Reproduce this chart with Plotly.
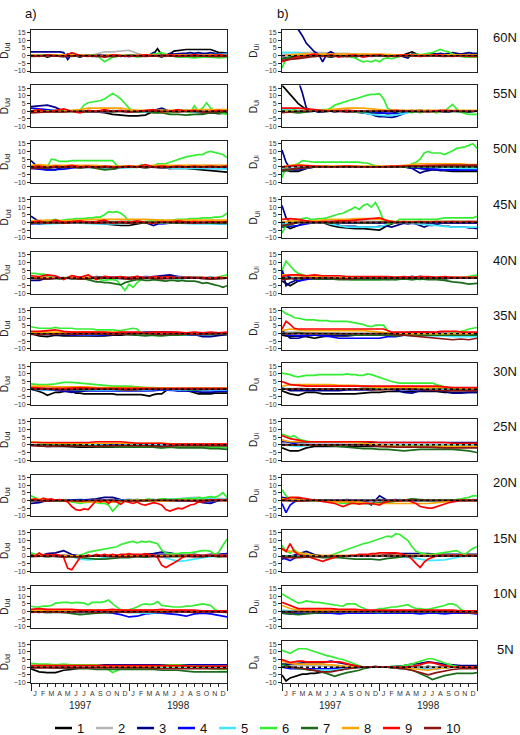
import numpy as np
import plotly.graph_objects as go

W, H = 520, 735
LATS = ["60N", "55N", "50N", "45N", "40N", "35N", "30N", "25N", "20N", "15N", "10N", "5N"]
MONTH_LETTERS = ["J", "F", "M", "A", "M", "J", "J", "A", "S", "O", "N", "D"] * 2
YEARS = ["1997", "1998"]
SERIES = [1, 2, 3, 4, 5, 6, 7, 8, 9, 10]
COLORS = {1: "#000000", 2: "#b5b5b5", 3: "#00008b", 4: "#0000ff", 5: "#40e8ff",
          6: "#33ee33", 7: "#1b6b1b", 8: "#ffa500", 9: "#ff0000", 10: "#8b1414"}

# ---------------- column a) D_Ud ----------------
A60 = {
    1: [0,-0.5,0.5,0,-1,0,0.5,-0.5,0,1,-0.5,0,-1,0.5,0,-0.5,0,0.5,-1,0,0.5,0,-0.5,0,0.5,0,-0.5,0,0.5,0,
        1,4.5,0.5,0,1,3,3.5,3.8,4,4,4,4.2,4,4,4,3,2,2,1.5],
    2: [0,0.5,0,0.5,0,0,0.5,0,1,2.5,2.5,3,3.5,1.5,0,0,0,0.5,0,0,0.5,0,0,0.5,0],
    3: [2.5,2.5,2.5,2.5,2.5,2.5,2.5,2.5,2,-2.5,1,0,-1,0,0.5,0,-0.5,0,0.5,-0.5,0,0.5,0,-0.5,0,0.5,0,-0.5,0,0.5,
        2,0,-1,0,1.5,1,1.5,1.5,1.5,2,1.5,2,1.5,1.5,2,1.5,1,1.5,1.5],
    4: [0.5,0,-0.5,0,0.5,0,-0.5,0,0,0.5,0,0,0.5],
    5: [0,0.5,0,0,-0.5,0,0,0.5,0,0,0.5,0.5,1],
    6: [0,0,0,0.5,0,0,-0.5,0,0.5,-4,-1,0,0.5,-1,0,1,2,0,-1,-1,-1.5,-1,-1,-1.5,-1],
    7: [0,0,-0.5,0,0,-0.5,0,0,-0.5,0,-0.5,0,0],
    8: [0.5,0,0.5,0.5,0,0.5,0,0.5,0,0.5,0,0.5,0],
    9: [0,-0.5,0.5,0,-0.5,2,0,-0.5,0,-1,0.5,0,-0.5,0,0.5,0,0,0.5,0,0,0.5,0,0,0.5,0],
    10: [-0.5,0,-0.5,0,-0.5,-0.5,0,-0.5,0,-0.5,0,-0.5,-0.5],
}
A55 = {
    1: [0,-0.5,0,-0.5,0,0,-0.5,0,-0.5,-1,-2,-2.5,-3,-3,-2.5,0,0.5,-0.5,0,0,-0.5,-1,-1,-1.5,-1],
    2: [0,0,0.5,0,0,0.5,0,0,0.5,0,0,0.5,0],
    3: [3,3.5,4,2.5,0,0,-0.5,0,0,-0.5,0,0,-0.5,0,0,0.5,2,0,0,0.5,0,0,-0.5,0,0],
    4: [2,1,0,0,-0.5,0,0,-0.5,0,0,0,-0.5,0],
    5: [0,-0.5,0,0,-0.5,0,0,-0.5,0,0,-0.5,0,0],
    6: [0,0.5,0,-0.5,0,0.5,0,0,0.5,0,-0.5,0,0.5,
        4,5.5,6,6.5,7,8,10,11.5,10,8,5,2,0.5,0,-0.5,0,0.5,0,-1,0.5,-0.5,-1,0,-0.5,1,0,-1,3.5,0,2,5.5,2,0,-1,-1.5,-2],
    7: [0,-0.5,0,0,-0.5,0,0,-0.5,0,0,-0.5,0,0,-0.5,0,-1,-1,-2,-2,-2.5,-2,-2,-1,-1,-0.5],
    8: [0,0,0,0,0,0.5,1,2,2,2,2,2,1,0.5,0.5,0.5,0.5,0.5,0.5,0.5,1,1,1,1,1],
    9: [0,1,-0.5,0.5,1.5,0,-1,0.5,0,1,0,0.5,-0.5,0,0.5,1,-0.5,0,1,0,0.5,-0.5,0,0.5,0],
    10: [-1,-0.5,-0.5,0,-0.5,0,-0.5,0,0,-0.5,0,-0.5,0],
}
A50 = {
    1: [0,-1,-0.5,0,-0.5,0,-0.5,0,-0.5,-1,-1.5,-0.5,0,0,-0.5,0,-0.5,-1,-1,-1,-1.5,-2,-2.5,-3,-3.5],
    2: [0,0.5,0,0.5,0,0,0.5,0,0.5,0.5,1,1,1],
    3: [4,-1,-2,-2,0,0,0,0.5,0,0,0,0,0,0,0.5,0,-0.5,-1,-0.5,0,0,-0.5,0,0,0],
    4: [-1,-2,-1.5,0,0,-0.5,0,0,0,-0.5,-0.5,-1,-1],
    5: [-0.5,-0.5,0,-0.5,-0.5,-1,-0.5,0,-0.5,-1,-1,-1,-1.5],
    6: [0,-0.5,0,0.5,0,5,4.5,3.5,3.5,3.5,4,4,4,4,4,4,4,4,4,4,4,1,0,0.5,0,0,-0.5,1.5,0,0,
        0.5,2,2,2,3,4,4.5,5.5,6.5,7,7.5,8,8,9.5,10,9.5,9,8,6],
    7: [0,-0.5,-1,0,-0.5,0,-0.5,0,-1,-2,-1.5,0,0,0,-0.5,0,0,0.5,0,0,0,0,0,0,0],
    8: [1,1.5,1,1,1,1,1,1,1,0.5,0.5,0.5,0.5,0.5,0.5,1,1,1,1,1,1,1,1,1,1],
    9: [0,0.5,-0.5,0.5,0,1,0,0.5,-0.5,0.5,0,0,0.5,0,1.5,0,0.5,0,0.5,0,0.5,0,0.5,0,0.5],
    10: [-1,-0.5,0,-0.5,0,-0.5,0,0,-0.5,0,0,0,0],
}
A45 = {
    1: [0,-1,-0.5,0,-0.5,0,-0.5,0,-0.5,-1,-1.5,-2,-2,-1,0,0,-0.5,0,-0.5,0,0,0,-0.5,0,0],
    2: [0,0.5,0,0.5,0.5,0.5,1,0.5,0,0.5,0.5,1,1],
    3: [4,0.5,0,0,0,0.5,0,0,0,0,0,-0.5,0,-0.5,0,-2,0,0,0,0,-0.5,-0.5,-0.5,-1,-1],
    4: [-1,-0.5,0,0,0,-0.5,-0.5,0,-1,0,0,-0.5,-0.5],
    5: [-0.5,-1,-0.5,-0.5,-1,-1,-0.5,0,-0.5,-0.5,-1,-1,-1],
    6: [0,-0.5,0,0.5,0,1.5,2,1,1.5,2,2,2.5,2.5,2.5,3,3,3.5,3.5,5,7,6.5,7,6,4,0.5,0,0.5,-0.5,0.5,1,
        1,1.5,1.5,1,1.5,1.5,2,2,2,2.5,2.5,2.5,3,3,3,3.5,3.5,4,6],
    7: [0,-0.5,0,0,-0.5,0,-0.5,-0.5,0,-0.5,0,-0.5,-0.5],
    8: [1,1.5,1,1.5,2,2,2,2,1.5,1.5,1.5,1.5,1.5],
    9: [0,1,-0.5,1.5,0,0.5,1,0,0.5,1.5,-0.5,0.5,0,1,0,-0.5,0.5,0,1,0,0.5,0,0.5,0,0.5],
    10: [-0.5,0,-0.5,0,-0.5,0,-0.5,0,0,0,-0.5,0,0],
}
A40 = {
    1: [0,-0.5,0,-0.5,0,0,-0.5,0,0.5,0,0,-0.5,0],
    2: [0,0,0.5,0,0,0.5,0,0.5,0.5,0,0.5,0,0],
    3: [-1.5,-1.5,0,0.5,0,0,0.5,0,1,0.5,0,0.5,0.5,1,0.5,1,1.5,2,1,0.5,0.5,0,0.5,0,0],
    4: [0,0.5,0,0.5,0,0.5,0,1,0.5,1,0.5,0,0],
    5: [0,0,-0.5,0,0,-0.5,0,0,0,-0.5,0,0,0],
    6: [3,3,2.5,2.5,2,0.5,0,-0.5,0,0.5,0,-0.5,0,0,-1,-0.5,0,-1,-1.5,-1,-1,-1.5,
        -5,-8,-4,-6,-3,-1,0,
        0.5,0,-0.5,0,0.5,0,0,-0.5,0,0.5,0,0,0.5,0,0,0.5,0,1,1.5,2],
    7: [0,0,-0.5,0,-0.5,0,0,-0.5,0,0,-0.5,0,-0.5,-0.5,-1,
        -2,-2.5,-2.5,-3,-3,-3.5,-4,-4.5,-3,-2,-1.5,-1,-1,-1.5,-1.5,-1,-1.5,-1.5,-2,-1.5,-1.5,-2,-1.5,-2,-2,-2,-2.5,-3.5,-3,-4,-4.5,-5,-6,-5],
    8: [0.5,0.5,0,0.5,0.5,0,0.5,0.5,0,0.5,0.5,0,0.5],
    9: [1.5,1,2,1.5,-1,1.5,0.5,2,-1,1,0.5,1,0,1,0,1,0.5,1,0,0.5,0,0.5,0,0.5,0],
    10: [0,-0.5,0,-0.5,0,0,-0.5,0,-0.5,0,0,-0.5,0],
}
A35 = {
    1: [0,-1.5,-2,-1,-1.5,-1.5,-1.5,-1.5,-1.5,-1.5,-1,-1,-0.5,-1,-1,-0.5,-0.5,-1,-0.5,-0.5,-1,-0.5,-0.5,-1,-0.5],
    2: [0,0,0,0,0,0.5,0,0,0.5,0,0,0,0],
    3: [1,0.5,0,0,0,-1,-1,-1,-1.5,-1,0,0,0.5,0.5,1,1,1,1,0.5,0.5,-0.5,-2,-2,-1,-0.5],
    4: [0,-0.5,-0.5,-1,-1,-0.5,0,0,0,-0.5,-1,-0.5,0],
    5: [0,-0.5,0,-0.5,-0.5,0,0,-0.5,0,-0.5,-0.5,-0.5,0],
    6: [4.5,4,3.5,3.5,3.5,3.5,4,3.5,3.5,3.5,3.5,3,3,3,3,3,2.5,2.5,2.5,2.5,2.5,2,2,2.5,3,3.5,3,0,-1,-0.5,
        -1,-1.5,-1,-0.5,-1,-1,-0.5,-1,-0.5,0,-0.5,0,-0.5,0,0,0.5,0,0.5,0],
    7: [0,0,-0.5,0,0,-0.5,0,0,-0.5,0,-0.5,0,-0.5,-1,-1.5,-1,-1.5,-1,-1,-0.5,-0.5,-0.5,-0.5,0,-0.5],
    8: [1,1,1,1,1,1,0.5,0.5,0.5,0.5,0.5,0.5,0.5],
    9: [1.5,1.5,2,2.5,1.5,1,1,1,1,1,0.5,1,1,1,0.5,1,1,1,1,0.5,1,0.5,1,0.5,1],
    10: [-0.5,-0.5,0,-0.5,0,-0.5,0,0,-0.5,0,-0.5,0,0],
}
A30 = {
    1: [0,-0.5,-1.5,-2.5,-4,-3,-2,-2,-1.5,-1,-1.5,-2.5,-2.5,-3,-3,-3,-3,-3,-3,-3,-3,-3.5,-3.5,-3.5,-3.5,
        -3.5,-3.5,-3.5,-4,-4.5,-3.5,-3,-3,-1,0,-0.5,-1,-1,-1,-1.5,-2.5,-3,-3,-3,-3,-2.5,-2.5,-2.5,-2.5],
    2: [0,0.5,0,0,0,0.5,0,0,0,0,0.5,0,0],
    3: [0,0,0,-0.5,-1.5,-2,-1.5,-1,-1,-1,-1,-1,-1,-1,-1,-1,-0.5,-0.5,-1,-1,-1.5,-2,-2,-1.5,-1.5],
    4: [0,-0.5,-1,-1,-1,-1,-1,-1,-0.5,-1,-1,-1,-1],
    5: [0,-0.5,0,-0.5,-0.5,-0.5,-0.5,-0.5,0,-0.5,-0.5,-0.5,-0.5],
    6: [3.5,3,3,3.5,4.5,4.5,4,3.5,3,2.5,2,2,2,1.5,1,1,0.5,0.5,0.5,0.5,0.5,0.5,0.5,0.5,0.5],
    7: [0,0,0,-0.5,0,0,-0.5,0,0,0,-0.5,0,0],
    8: [2,2,2,1.5,1.5,1.5,1.5,1.5,1,1,1,1,1,1,1,0.5,0.5,0.5,0.5,0.5,0.5,0.5,0.5,0.5,0.5],
    9: [1,0.5,0.5,1,0.5,0.5,0.5,0.5,0.5,0.5,0.5,0.5,0.5],
    10: [0,0,-0.5,0,0,0,-0.5,0,0,0,0,0,0],
}
A25 = {
    1: [0,-1,-1,-1.5,-1.5,-1.5,-1,-1,-0.5,-0.5,-0.5,-0.5,-0.5],
    2: [0,0.5,0,0,0.5,0,0,0.5,0,0,0.5,0,0],
    3: [0,0,0.5,0.5,0.5,0.5,0.5,0.5,0.5,0.5,0.5,0.5,0.5],
    4: [0,-0.5,0,0,-0.5,0,0,-0.5,0,0,0,0,0],
    5: [0,-0.5,0,0,0,-0.5,0,0,0,-0.5,0,0,0],
    6: [2,1.5,1,0.5,0,0,0,-0.5,-1,-1,-1,-1,-1.5,-1,-1.5,-1.5,-2,-1.5,-1.5,-1.5,-1.5,-1.5,-1.5,-1.5,-2],
    7: [0,0,0,-0.5,0,-0.5,-0.5,-1,-1,-1,-1,-1.5,-1.5,-1.5,-1.5,-1.5,-2,-1.5,-2,-2,-2,-2,-2.5,-2.5,-3],
    8: [2,1,1,1,1,1,1,1,1,0.5,0.5,0.5,0.5],
    9: [1.5,1.5,1.5,1.5,1.5,1.5,1.5,1.5,2,2,2,2,1.5,1,1,1,1,0.5,0.5,0.5,0.5,0.5,0.5,0.5,0.5],
    10: [-0.5,-1,-0.5,-0.5,-1,-0.5,-0.5,-0.5,-1,-0.5,-0.5,-0.5,-0.5],
}
A20 = {
    1: [0,0.5,0,-0.5,0,0.5,0,0,0.5,0,0,0.5,0],
    2: [0,0,0.5,0,0,0,0,0,0,1,2,1.5,1],
    3: [-2,-1.5,0,0,0,0,0,0.5,1,2,2,0.5,0,0.5,0,0.5,0,0,0.5,0,0,-1.5,-2,0,0.5],
    4: [0,-0.5,0,0.5,0,0,0.5,0,0,-0.5,0,-1,0.5],
    5: [0,0,0,-0.5,0,0,0,0,0.5,1,1.5,1,0.5],
    6: [3,1.5,0.5,0,0.5,0,0,-0.5,0,-0.5,-1,-1.5,-2,-1.5,-1,-1,-1.5,-2,-2,-3,-7,-4,-1,0,-0.5,0,0.5,0,0.5,1,
        0,0.5,1,1,0.5,0.5,1,1,1,1.5,1,2,1.5,2,2.5,2,3,5,2],
    7: [0,0,-0.5,0,-0.5,-1,0,-0.5,0,0,0,0,0],
    8: [1,0.5,0,-1,-1,-1,0,0,-0.5,0,0,0,0],
    9: [0,1,0,1.5,0.5,1,0,0.5,0,-1,-4,-6,-6.5,-5.5,-6,-3,0,-1,0,-2,0,-1,-2.5,-0.5,-1.5,-2,-1,-2.5,-3,-2,
        -1.5,-2,-3,-6,-7,-6,-5,-5.5,-4,-3,-2.5,-1,-1,0,0.5,0,0.5,0,0],
    10: [0,-0.5,0,-0.5,0,0,-0.5,0,0,0,-0.5,0,0],
}
A15 = {
    1: [0,0,-0.5,0,0,0,0,-0.5,0,0,0,0,0],
    2: [0,0,0,0,0,0,0,0,0,0.5,0.5,0,0],
    3: [1,0,1.5,2,3.5,1,0,0,0.5,0,0.5,0,0.5,0.5,1,1.5,2.5,2,1,0.5,1,0.5,1,1,1.5],
    4: [0,0.5,0.5,0,0,0,0.5,0.5,1,0.5,0.5,0.5,1],
    5: [0,0,0,0,0,-0.5,-2,-2.5,-2,-1,-0.5,-0.5,-0.5,0,0,0,-0.5,-2,-3.5,-3,-2,-1,-0.5,0,0],
    6: [2,1,0.5,0.5,0,0,0.5,0,0,-0.5,0,0,0.5,1.5,2.5,3,3.5,4,4.5,5,5.5,6,7.5,8,9,9.5,8.5,9.5,9,9.5,
        9,8,4,2,1.5,1.5,1.5,2,2,2,2.5,3,3.5,3.5,3,1,2.5,7,11],
    7: [0,0,-0.5,0,0,-0.5,-1,-1.5,-2,-2,-1.5,-1,-1,-0.5,-0.5,0,0,-0.5,-0.5,0,0,-0.5,0,-0.5,0],
    8: [0.5,0.5,0.5,0,0,0.5,0.5,0.5,0.5,0.5,0.5,0.5,0.5],
    9: [0.5,0,2,0.5,1,0.5,1,0.5,-1,-8,-9,-5,-1,0,0.5,0,1,0.5,1,0.5,1,0.5,1,1,1.5,1,1,1,1.5,1,
        0.5,-1,-6,-7.5,-6,-5,-3,-1,0,0.5,0,0.5,0,0.5,0,0.5,0,0.5,0],
    10: [-0.5,0,-0.5,-0.5,0,-0.5,-0.5,0,-0.5,0,-0.5,0,-0.5],
}
A10 = {
    1: [0,-0.5,0,-0.5,0,0,0,-0.5,0,0,0,0,0],
    2: [0,0,0.5,0,0,0,0,0.5,0,0,0,0,0],
    3: [0.5,0.5,0,0,0,0,0,0,0,0,0.5,0,0],
    4: [0,-0.5,0,0,0,0,-0.5,0,-0.5,-0.5,-1,-2,-3.5,-3,-1.5,-1,-1,-1.5,-2,-3,-1.5,-1,-1.5,-2.5,-3.5],
    5: [0,0,0,0,-0.5,0,-0.5,-1,-0.5,0,0,0,0],
    6: [3.5,3,3,3.5,3.5,4,5.5,6,6,6,5.5,6,5.5,5.5,4.5,6,6,6,6.5,7.5,5,3,1,0.5,1,2,3,4.5,5,4.5,
        5,6.5,4,3.5,3.5,3,3,3,3.5,3.5,4,4.5,5,4.5,4,1.5,0,0,0],
    7: [0,-0.5,-0.5,-2,-1,-0.5,0,0,0.5,0.5,0,0,0],
    8: [1,1,1,1,1,1,1,1,1,1,0.5,0.5,0.5],
    9: [1.5,2,1.5,1.5,1.5,1.5,1,1,1,1,1.5,1,1,1,1,1,1.5,1,1,1,1,0.5,0.5,0.5,0.5],
    10: [-0.5,0,-0.5,0,-0.5,0,-0.5,0,-0.5,0,-0.5,0,-0.5],
}
A5 = {
    1: [-1,-3,-3.5,-3.5,-2,-1.5,-0.5,0,0,0,0,0,0,0,0,0,0,0,0,0,0,0,0,0,0],
    2: [0,0,0.5,0,0,0,0,0,0.5,0,0,0,0],
    3: [0,0,0,0,0,0,0,0.5,1,1.5,1.5,1.5,1.5,1.5,1.5,1.5,1.5,1.5,1.5,1.5,1.5,1.5,1.5,1.5,1.5],
    4: [0,0,0,0,0.5,1,1,1,1,1,1,1,1],
    5: [0,0,-0.5,0,0,0,0,0,0,0,0,0,0],
    6: [2.5,2,2,1.5,2,1.5,1.5,1.5,1.5,0,-3.5,-1,-1,-1,-0.5,0,1,1.5,1.5,1,0.5,-0.5,-1,-1.5,-1.5],
    7: [0,0,0,-0.5,-0.5,-1,-1,-1,-1.5,-1.5,-1.5,-1.5,-1.5,-1.5,-1.5,-1.5,-2,-2,-2,-2.5,-3,-3,-3,-3,-3],
    8: [1,1,1,1,1,0.5,0.5,0.5,0.5,0.5,0.5,0.5,0.5],
    9: [1,1,1,1,1,1,1,1,1,1,0.5,0.5,0.5],
    10: [-0.5,-0.5,-0.5,-0.5,-0.5,-0.5,-0.5,-0.5,-1,-1,-1,-1,-1],
}

# ---------------- column b) D_Ui ----------------
B60 = {
    1: [-2,-1,0,0,-0.5,0,-1,0,-0.5,0,-0.5,0,0,-0.5,0,0.5,2.5,0,0,0.5,0,0,0.5,0,0],
    2: [2,2,2,2,2,2,1.5,1.5,1.5,1,1,0.5,0.5,0.5,0.5,0.5,0.5,0.5,0.5,0.5,0.5,0.5,0.5,0.5,0.5],
    3: [40,35,30,23,17,13,8,5,2.5,1,-4,1,2.5,1,0,-0.5,0,0.5,-1,0,0.5,0,-0.5,0,0.5,0,-0.5,0,0.5,0,
        -1,-1.5,1,0,0.5,0,1,1.5,1,1.5,1,1.5,2,1.5,1,1.5,2,1.5,1.5],
    4: [0,0.5,0,0,0.5,0,0,0,0.5,0,0.5,0.5,0.5],
    5: [2,2,2,1,0.5,0,0,0,0,0,0,0,0,0,0,0,0,0,0,0,0,0,0,0,0],
    6: [-8,-2,0,0.5,0,-0.5,0.5,0,-0.5,0,0.5,0,-0.5,0,0,-0.5,0,-1,-1.5,-3,-4,-3.5,-4,-3,-4,-2,-1.5,-2,-1,-0.5,
        0,-0.5,0,1,0.5,1,1.5,2,3,4,3,2.5,1,0,-0.5,-1,-1,-1,-1],
    7: [-2,-1,0,0,-0.5,0,0,0,0,0,0,0,0],
    8: [0,1,1,1,1,1,1,0.5,0.5,0.5,0.5,0.5,0.5],
    9: [-4,-2,-0.5,0,1,-0.5,0.5,-1,0,0.5,-1,0,0.5,-0.5,0,0.5,0,-0.5,0,0.5,0,-0.5,0,-0.5,-0.5],
    10: [-3,-2,-0.5,0,-0.5,0,0,-0.5,0,0,-0.5,0,0],
}
B55 = {
    1: [17,11,5,1,0,-0.5,0,0.5,0,-0.5,-1,-1,-1,-1.5,-1,-0.5,0,0.5,0,0,-0.5,0,0,-0.5,0],
    2: [0,0.5,0,0,0.5,0,0,0,0,0,0,0,0],
    3: [40,35,30,25,20,12,2,1,0,-0.5,0,0.5,0,-0.5,0,0,-0.5,0,0,-0.5,-1,-1.5,-2,-3,-3.5,-3.5,-4,-4,-3.5,-2.5,
        -1,0,0.5,0,-0.5,0,0.5,0,0,0.5,0,-0.5,0,0.5,0,0,-0.5,0,0],
    4: [1,-0.5,0,0,0,0,-1,-1.5,0,0,0,0,0],
    5: [1,1,0.5,0,0,0,0,0,0,-0.5,-1,-2,-2.5,-3,-2.5,-1.5,-0.5,0,0,0,0,0,0,0,0],
    6: [0,0.5,0,1,0,-0.5,0,0.5,0,0.5,1,1,2,4,5,5.5,7,7.5,8,9,10,10.5,11,11,11.5,8,2,0.5,0,-0.5,
        0.5,0,-1,0.5,-1,0,-0.5,0,-1,0,0,2,4.5,1.5,-0.5,-1.5,-2,-2,-2],
    7: [0,-1,0,0,0,-0.5,0,0,-0.5,0,0,-0.5,0],
    8: [0,0,0,0,0,0.5,1,1.5,2,2,2,1.5,1,0.5,0.5,0.5,0.5,0.5,0.5,0.5,0.5,0.5,0.5,0.5,0.5],
    9: [2,2,1,0,0.5,0,0,0.5,0,0,0.5,0,0],
    10: [-1,0,0,0,-0.5,0,0,0,0,-0.5,0,0,0],
}
B50 = {
    1: [-1,-3,-3,-1,0,0,0,0,0,0,0,0,0,0,0,0,-0.5,-1,-1.5,-2,-2.5,-3,-3,-3,-3],
    2: [0,0.5,0,0,0,0,0,0,0.5,1,1,1,1],
    3: [11,3,-1,-2,-2,-1.5,0,0.5,0,0,0,0.5,0,0,0,0,0.5,0,0,0,0,0,0,0.5,0,0,0,0.5,0,0.5,
        0,-0.5,-1,-2.5,-4,-3,-2.5,-2,-2,-2.5,-2,-2,-2.5,-2,-2,-2,-2,-2,-2],
    4: [-3,-2,-1.5,-1,0,0,0,0,0,0,0,0,0,0,0,0,-0.5,-1,-1.5,-1.5,-2,-2,-2,-2,-2],
    5: [-1,-1,0,0,0,0,0,0,0,0,-0.5,-1,-1],
    6: [-7,0,0.5,1,2,4,3.5,3,3,3,3,3,3,3,3,3,3,3,3,3,2.5,2.5,1.5,0.5,0,0,0,0,0,0,
        0,0,2,3,5,9,10,9,9,9,8,9,10.5,12,12.5,13,14,15,12],
    7: [-3,-1,0,0,0,0,0,0,0,0,0,0,0],
    8: [0,1,1.5,1,0.5,0.5,0.5,0.5,0.5,0.5,0.5,0.5,0.5,0.5,0.5,1,1.5,2,2,2,2,2,2,1.5,1.5],
    9: [0,1,0.5,0,0.5,0,0,0.5,0.5,1,1,1,1],
    10: [-2,-1,0,0,0,0,0,0,0.5,0.5,1,1,1],
}
B45 = {
    1: [-1,-4,-2,0,0,0,-2,-3,-3.5,-4,-4,-4.5,-5,-2,0,0,0,0,0,0,-0.5,0,-0.5,0,0],
    2: [0,0.5,0.5,1,1,1,0.5,0,0.5,0.5,1,1,1],
    3: [11,3,0,0.5,0,0,-0.5,0,0,0,0,0,-0.5,-1,-2,-2.5,-2.5,-2.5,-2.5,-3,-3,-3,-3,-3,-2.5,-2.5,-2.5,-3,-2,-1,
        -0.5,-1,-0.5,-1,-2,-3,-2,-2,-1.5,-2,-2.5,-2.5,-3,-3,-3,-3,-3.5,-3.5,-4],
    4: [-3,-2,0,0,-0.5,-0.5,-0.5,0,0,-0.5,-0.5,-0.5,-0.5],
    5: [-1,-1,0,0,0,0,-1,-2,-3,-3,-3,-3,-3,-1,0,0,-0.5,-1,-1.5,-2,-2.5,-3,-3,-3,-3],
    6: [-7,-2,0.5,1,1.5,2.5,3,2,2,2.5,2.5,3,4,5,5.5,6,7,8.5,10,8.5,11,12,10,13,8,1,-1,-0.5,0.5,2,
        2,2,2,2,2,2,2,2,2,2.5,3,3,3,3,3,3,3,3,4],
    7: [-3,0,0,-0.5,0,-0.5,0,0,0,0,0,0,0],
    8: [0,1,1,1,1,1.5,2,2,2,2.5,2.5,2.5,2,1,0.5,0.5,0.5,0.5,0.5,0.5,0.5,0.5,0.5,0.5,0.5],
    9: [2,2.5,2,1,0,0.5,0.5,1,1,1.5,2,2.5,3,1,0,0.5,0,0.5,0,0.5,0,0.5,0,0.5,0],
    10: [-2,0,0,0,0,0,0,0,0,0,0,0,0],
}
B40 = {
    1: [-2,-5,-2,0,-0.5,-0.5,-0.5,0,-0.5,0,0,0,0,-0.5,0,0,-0.5,0,0,0,-0.5,0,0,0,0],
    2: [0,0.5,0,0,0,0,0,0.5,0,0,0,0,0],
    3: [6,-5,-3,-2,0,0.5,0,-0.5,0,0.5,0,-0.5,0,0.5,0,0,-0.5,0,0.5,0,0,-0.5,0,0.5,0,0,-0.5,0,0.5,0,
        0,0.5,1,0.5,1,0.5,0,0.5,0,0,-0.5,0,0.5,0,0,0,0.5,0,0],
    4: [3,-2,0,0,0,0,0,0,0,0.5,0,0,0],
    5: [0,0,0,0,0,0,0,0,0,0,0,0.5,1],
    6: [5,11,8,5,3,2,1.5,1,0.5,0.5,0,0.5,0,0,-0.5,0,-0.5,-1,-1,-1,-1,-1,-1,-1,-1,-0.5,-1,-0.5,-1,-0.5,
        -0.5,-0.5,-1,-0.5,-1,-0.5,-0.5,-0.5,-0.5,0,-0.5,0,0,0.5,0,0.5,1,1.5,2],
    7: [0,0,-0.5,0,-0.5,-0.5,-0.5,-1,-1,-1,-1,-1,-1,-1,-1,-0.5,-1,-0.5,-1,-1,-1.5,-2.5,-3,-4,-3.5],
    8: [2,1.5,1,0.5,0.5,0.5,0.5,0.5,0.5,0.5,0.5,0.5,0.5],
    9: [1,2,2,1.5,2,1.5,1.5,1.5,1,1,1,1,1,1,0.5,1,0.5,1,1,0.5,1,0.5,0.5,0.5,0.5],
    10: [-1,0,0,0,-0.5,0,0,0,0,0,0,0,0],
}
B35 = {
    1: [-1,-2,-1.5,-2,-3,-2,-1.5,-1.5,-1.5,-1,-1,-1,-1,-1,-1,-0.5,-0.5,-0.5,-0.5,-0.5,-1,-1,-1,-1,-1],
    2: [1,1,0.5,0,0,0,0,0,0,0,0,0,0],
    3: [2,-3,-3,-1.5,-1,-1,-1,-1,-1,-1,-1,-1,-1,-1,0,0.5,1,1,1,0.5,0,-0.5,-0.5,-1,-1],
    4: [0,-1,-1.5,-1,-1,-1.5,-2,-3,-3,-3,-3,-3,-3,-2,-2,-1,-0.5,0,0,0,0,0,0,0,0],
    5: [0,0,0,0,0,0,0,0,0,0,0,0,0,-0.5,-1,-1,-1.5,-1.5,-1.5,-1.5,-1.5,-2,-2,-2,-2],
    6: [15,13,12,10.5,10,9.5,9,9,9,8.5,8.5,8.5,8,8,8,8,8,7.5,7,6.5,6,5,4.5,5.5,5.5,5.5,2,0,-0.5,-1,
        -1,-1,-1,-1.5,-1,-1,-1,-1,-1,-0.5,-0.5,0,0.5,1,1.5,2,3,3.5,4],
    7: [0,0,0.5,0,0,0,0,0,-0.5,-1,-1,-1,-1,-1,-1.5,-1,-0.5,-1,-1,-1,-1,-1,-1,-1,-1],
    8: [2,3,2.5,2,2,2,2,2,2,2,2,1.5,1,0.5,0,0,0,0,0,0,0,0,0,0,0.5],
    9: [3,8,6,3.5,3,3,3,3,3,3,3,3,3,3,3,3,3,3,3,3,3,3,3,3,3,3,2,1,1,1,
        1,1,1,1,1,1,1,1,1,1.5,1.5,1.5,1.5,1.5,1,1,1,1,1],
    10: [0,0,0,0,0,0,0,0,0,0,0,0,0,0,-0.5,-1,-1.5,-2,-2.5,-3,-3.5,-4,-3.5,-4,-3],
}
B30 = {
    1: [-1,-3,-4,-2,-2,-3,-3,-3,-3,-3,-2.5,-2,-2,-1.5,-1.5,-1.5,-1.5,-1.5,-1.5,-1.5,-2,-2,-2,-2,-2],
    2: [0,0.5,0,0,0,0,0,0,0,0,0,0,0],
    3: [1,-1,-1,-1,-1,-1,-1,-1,-0.5,-0.5,-0.5,-0.5,0,0,-0.5,-2,-2.5,-1,-1,-1,-1.5,-2.5,-2.5,-2,-2],
    4: [0,0,0,0,0,0,0,0,-0.5,0,0,-0.5,-1],
    5: [0.5,0,0,0,0,0,0.5,0,0,0,0,0,0],
    6: [10.5,10,9.5,8.5,8,8.5,9,9,9,9.5,9.5,9.5,9.5,9.5,9.5,9.5,10,9.5,9.5,9,9,10,9.5,8.5,8,7,6,5,4.5,4,
        4,4,4,4,4,4,4,4,3,2,1.5,1,0.5,0.5,0.5,0.5,0.5,0.5,0.5],
    7: [0,0,0,0,0,0,0,0,0,0,0.5,0.5,1,1,1,1,1,1,1,0.5,0.5,0,0,0,0],
    8: [2,3,3,3,3,3,3,2.5,2.5,2.5,2,1.5,1,1,1,1,1,1,1,1,1,1,0.5,0.5,0.5],
    9: [5,3,2.5,2,2,2,2,2,2,2,2,2,2,2,2,2,2,2,2,2,1.5,1,1,1,1],
    10: [0,0,0,0,0,0,-0.5,0,0,-0.5,-1,-1,-1],
}
B25 = {
    1: [-2,-4,-4,-2,-1,-1,-1,-1,-1,-1,-1,-1,-1,-1,-0.5,-0.5,-0.5,-0.5,-0.5,-0.5,-0.5,-0.5,-0.5,-0.5,-0.5],
    2: [1,0.5,0,0,0,0,0,0,0,0,0,0,0],
    3: [2,2,1.5,1.5,1.5,1.5,1.5,1.5,1.5,1.5,1.5,1.5,1.5,1.5,1.5,1.5,1.5,1.5,1.5,1.5,1.5,1.5,1.5,1.5,1.5],
    4: [3,0,0,0,0,0,0,0,0,0,0,0,0],
    5: [0,-1,0,0,0,0,0,0,0,0,0,0,0],
    6: [7,6,5,6,4,3,2.5,2,2,2,2,2,2,2,2,2,2,2,1.5,1.5,1,1,0.5,0,0,-0.5,-1,-1,-1,-1,
        -1,-1,-1,-1,-1,-1,-1,-1,-1,-1,-1,-1,-1,-1,-1.5,-1.5,-1.5,-1.5,-1.5],
    7: [0,0,0,0,0,0,-0.5,-1,-1.5,-2,-2.5,-2.5,-3,-3,-3.5,-4,-3.5,-3,-3,-3,-3,-3,-3.5,-4,-5],
    8: [3,2,2,2,2,2,2,2,1.5,1.5,1,0.5,0,-0.5,-1,-1,-1,-1,-1,-1,-1,-1,-1,-1,-1],
    9: [6,4,3,2,2,2,2,2,2,2,2,2,1.5,1.5,1.5,1.5,1.5,1.5,1.5,1.5,1.5,1,1,1,1],
    10: [0,0,0,0,0,0,-1,-1.5,-1.5,-1.5,-2,-2,-2],
}
B20 = {
    1: [0,1,0,0,0,0,0.5,0,0,0,0,0,0],
    2: [0,0,0,0,0,0,0,0,0,0,0,0,0.5],
    3: [2,1,0,0,0,0,0,0,0.5,0,0,-3,3,0,0.5,0,0,0,0,0,0,0,0,0,0],
    4: [-2,-8,-3,-1,0,0.5,0,0,0.5,0,0,0,0,0,0,-0.5,0,0,0,0,0,-0.5,0,0,0,0,0,0,0,0.5,
        0,0,0,0,0,0,0,0,0,0,0,0,0,0,0,0,0,0.5,0],
    5: [0.5,0,0,0,0,0,0,0,0,0,0,0,0.5],
    6: [7,3,1,0.5,0,0.5,0,0,-0.5,0,-0.5,-1,-1,-1.5,-1.5,-2,-2,-2,-2,-2,-2,-2,-2,-2,-1.5,-1.5,-1,-1,-0.5,0,
        0,0.5,0,0.5,0,0,0.5,0,0,0.5,0,0.5,0,0.5,1,1.5,2,3,3],
    7: [0,0,0,0,0,0,0,-0.5,-1,-1.5,-2,-2,-1.5,-1,-0.5,0,1,0.5,0,0,0,0,0,0,0],
    8: [1,1,0.5,0,0,-0.5,-1,-1,-1,-1,-1.5,-2,-2,-2,-2,-2,-2,-2,-2,-1.5,-1,-0.5,0,0,0],
    9: [0,1,2,2,2,1.5,1,0.5,0,0,-0.5,-1,-1.5,-2,-3,-4,-3,-2,-2,-2.5,-2,-2,-2,-2.5,-3,-1.5,-0.5,0,0,-0.5,
        0,0,-1,-2,-4,-4.5,-5,-5,-4,-3,-2,-1.5,-1,-0.5,0,0,0,0,0],
    10: [0,-0.5,0,0,0,0,0,0,0,0,0,0,0],
}
B15 = {
    1: [0,-0.5,0,0,0,0,0,0,0,0,0,0,0],
    2: [0,0,0,0,0,0,0,0,0,0,0,0,0.5],
    3: [-2,0,1.5,3,1,0,0,0,0,0,0,0.5,0.5,1,1.5,1.5,1.5,1.5,1.5,1,1,1,1,1,1],
    4: [-1,-3,0,0,0,0,0,0,0,0,0,0,0,0,0,0,0,0,0,0,0,0,0,0,0],
    5: [0,0,0,0,0,0,0,0,-1,-3,-2.5,-0.5,0],
    6: [7,3,2,4,2,1.5,1,0.5,0,0,0,0,0.5,1.5,2.5,3.5,4,5,6,7,8,8.5,9.5,10,11,12.5,13,12.5,14.5,14,
        12,10,6,3,2,1.5,1,1,1.5,2,2.5,3,3.5,3.5,2,1,3,5,6],
    7: [0,0,-0.5,0,-0.5,-1,-1,-1,-1.5,-2,-2,-2,-2.5,-1.5,-1,-0.5,-0.5,0,0,0,0,0,0,0,0],
    8: [4,3,2,1,0.5,0.5,0.5,0.5,0.5,0.5,0.5,0.5,0.5,0.5,0.5,0.5,0.5,0.5,0.5,0.5,0.5,0.5,0.5,0.5,0.5],
    9: [5,3,8,3,1,0.5,0,-1,-2,-3,-3.5,-2.5,-1.5,-0.5,0,0,0,0.5,0.5,1,1,1,1.5,1.5,2,2,2,2,2,1.5,
        1,0,-2,-5,-7.5,-4,-2,-1,0,0,0.5,0,0.5,0,0.5,0,0.5,0,0],
    10: [-1,-1,-0.5,0,0,0,0,0,0,0,0,0,0],
}
B10 = {
    1: [-1,-0.5,0,0,0,0,0,0,0,0,0,0,0],
    2: [0.5,0,0,0,0,0,0,0,0,0,0,0,0],
    3: [0.5,0,0,0,0,0.5,0,0,0,0,0,0,0],
    4: [-1,-1.5,-1,-1,-1,-1,-1,-1.5,-1,-1,-1,-1,-1,-1,-1,-1,-1,-1.5,-1,-1,-1.5,-1,-1,-1,-1.5],
    5: [1,0,0,0,0,0,-0.5,0,0,0,0,0,0],
    6: [11.5,10,9,7,5.5,6,7,6.5,6,6,5.5,5,4.5,4,4,3.5,5,5,5,3.5,2,1,0,1,2,2,2.5,3,3,3.5,
        4,4.5,3,2,2,1.5,1.5,2,2.5,3,4,5,5,4,1.5,0,-0.5,-1,-1],
    7: [-1,-2,-1,0,0,0,0,0,0,0,0,0,0],
    8: [4,2,1,1,1,1,1,1,0.5,0.5,0.5,0.5,0.5,0.5,0.5,0.5,0.5,0.5,0.5,0.5,0.5,0.5,0.5,0.5,0.5],
    9: [6,4,2,2,2,2,2,1.5,1.5,1.5,1,1,1,1,1,1,1,1,1,1,1,1,0.5,0.5,0.5],
    10: [0,0,0,0,0,0,0,0,0,0,0,-0.5,-1],
}
B5 = {
    1: [-5,-9,-7,-6,-5,-4.5,-4.5,-4,-4,-3.5,-3,-2.5,-2,-2,-2,-1.5,-1,-0.5,0,0,
        0,0,0,0.5,0,0,0,0,0,0,0,0,0,0,0,0,0.5,0,0,0,0,0,0,0,0,0,0,0,0],
    2: [1,1,1,0.5,0,0,0,0,0,0,0,0,0],
    3: [2,2,2.5,3,3,3,4,3,2,1,0,0,0,0,0.5,1,2,2.5,3.5,2.5,2,1.5,1,1,1],
    4: [0,-1,-1,-1,-1,-1,-1,-0.5,0,0,0,0,0,0,0,0,-0.5,-1,-1.5,-1,-0.5,0,0,0,0],
    5: [1,0,-1,-1.5,-2,-2,-2,-1.5,-1,-0.5,0,0,0,0,0,0,-0.5,-1,-1.5,-1,-0.5,0,0,0,0],
    6: [11,10,9,10.5,12,12,12,11,10,9,8,7.5,7,6,5.5,5,4,3,2,1,0,0,0,0,0,0,0,0.5,0.5,0.5,
        1,1.5,2,3,4,5,5.5,5.5,4.5,3.5,2.5,1.5,1,0.5,0,0,0,0,0],
    7: [2,1,0,-0.5,-1,-1,-1.5,-2,-2,-2.5,-3,-4,-5,-6,-5,-4,-3.5,-3,-2.5,-2,-1,-0.5,0,0,0,0,0,-0.5,-0.5,-1,
        -1,-1.5,-2,-3,-4,-5,-6.5,-8,-7,-6,-5.5,-5,-4.5,-4,-4,-4,-4,-4,-3.5],
    8: [4,2.5,2,2,2,2,1.5,1,0.5,0,0,0,0,0,0,-0.5,-1,-1.5,-2,-1,-0.5,0,0,0,0],
    9: [5,4,3,3.5,4,4,3.5,3.5,3.5,3.5,3.5,3.5,3.5,3.5,3.5,3,2,1.5,1,0.5,0,0,0,0,0,0,0,0,0,0,
        0,0,0.5,1,1.5,2.5,3,3,2,1.5,1,0.5,0,0,0,0,0,0,0],
    10: [0,0,-0.5,-1.5,-2.5,-3,-3,-2,-1,-0.5,0,0,0,0,-0.5,-1,-2,-3.5,-5,-3.5,-2.5,-1.5,-1,-1,-1],
}

LEFT = [A60, A55, A50, A45, A40, A35, A30, A25, A20, A15, A10, A5]
RIGHT = [B60, B55, B50, B45, B40, B35, B30, B25, B20, B15, B10, B5]

FONT = "Liberation Sans, Arial, sans-serif"
X_DOMS = [[31 / W, 227 / W], [282 / W, 477 / W]]
TOP0, PITCH, PH = 29.0, 55.9, 42.0
YRANGE = [-10.4, 16.8]

fig = go.Figure()
layout = dict(width=W, height=H, margin=dict(l=0, r=0, t=0, b=0),
              paper_bgcolor="white", plot_bgcolor="white", showlegend=False,
              font=dict(family=FONT, color="#222"))
annotations = []

for r, lat in enumerate(LATS):
    top = TOP0 + PITCH * r
    ydom = [1 - (top + PH) / H, 1 - top / H]
    for c, col in enumerate((LEFT, RIGHT)):
        k = r * 2 + c + 1
        data = col[r]
        xs, ys = f"x{k}", f"y{k}"
        for s in SERIES:
            vals = data[s]
            xv = np.linspace(0, 24, len(vals))
            fig.add_trace(go.Scatter(x=xv, y=vals, mode="lines", xaxis=xs, yaxis=ys,
                                     line=dict(color=COLORS[s], width=1.7), hoverinfo="skip"))
        fig.add_trace(go.Scatter(x=[0, 24], y=[0, 0], mode="lines", xaxis=xs, yaxis=ys,
                                 line=dict(color="black", width=1.4, dash="dot"), hoverinfo="skip"))
        bottom = (r == len(LATS) - 1)
        xax = dict(domain=X_DOMS[c], range=[0, 24], anchor=ys, showgrid=False, zeroline=False,
                   showline=True, mirror=True, linecolor="#222", linewidth=1,
                   ticks="", showticklabels=False)
        if bottom:
            xax.update(tickmode="array", tickvals=[m + 0.5 for m in range(24)], ticktext=MONTH_LETTERS,
                       showticklabels=True, tickfont=dict(size=7, color="#333"),
                       ticks="outside", ticklen=3, tickcolor="rgba(0,0,0,0)",
                       minor=dict(tickmode="array", tickvals=list(range(25)), ticks="outside",
                                  ticklen=3, tickwidth=1, tickcolor="#222"))
        layout[f"xaxis{k}"] = xax
        layout[f"yaxis{k}"] = dict(domain=ydom, range=YRANGE, anchor=xs, showgrid=False, zeroline=False,
                                   showline=True, mirror=True, linecolor="#222", linewidth=1,
                                   tickmode="array", tickvals=[-10, -5, 0, 5, 10, 15],
                                   ticks="outside", ticklen=3, tickwidth=1, tickcolor="#222",
                                   tickfont=dict(size=7, color="#333"))
        ylab = "D<sub>Ud</sub>" if c == 0 else "D<sub>Ui</sub>"
        annotations.append(dict(text=ylab, xref="paper", yref="paper",
                                x=(5 if c == 0 else 254) / W, y=sum(ydom) / 2,
                                textangle=-90, showarrow=False, xanchor="center", yanchor="middle",
                                font=dict(size=10, color="#222")))
        if bottom:
            # long ticks at year boundaries on an overlay axis
            ok = 40 + c
            layout[f"xaxis{ok}"] = dict(overlaying=xs, range=[0, 24], anchor=ys, showgrid=False,
                                        zeroline=False, showline=False, tickmode="array",
                                        tickvals=[0, 12, 24], ticks="outside", ticklen=7,
                                        tickwidth=1, tickcolor="#222", showticklabels=False)
            fig.add_trace(go.Scatter(x=[12], y=[-100], mode="markers", xaxis=f"x{ok}", yaxis=ys,
                                     marker=dict(opacity=0), hoverinfo="skip"))
            for i, yr in enumerate(YEARS):
                annotations.append(dict(text=yr, xref=xs, yref="paper", x=6 + 12 * i, y=1 - 708 / H,
                                        showarrow=False, xanchor="center", yanchor="middle",
                                        font=dict(size=10, color="#222")))
    annotations.append(dict(text=lat, xref="paper", yref="paper", x=505 / W, y=1 - (top + 8) / H,
                            showarrow=False, xanchor="center", yanchor="middle",
                            font=dict(size=13, color="#111")))

annotations.append(dict(text="a)", xref="paper", yref="paper", x=31 / W, y=1 - 13 / H, showarrow=False,
                        xanchor="center", yanchor="middle", font=dict(size=13, color="#111")))
annotations.append(dict(text="b)", xref="paper", yref="paper", x=283 / W, y=1 - 13 / H, showarrow=False,
                        xanchor="center", yanchor="middle", font=dict(size=13, color="#111")))

# legend row (own invisible axis in pixel units)
LEG_X0, LEG_STEP, LEG_LEN = 55, 41.0, 17
layout["xaxis30"] = dict(domain=[0, 1], range=[0, W], anchor="y30", visible=False)
layout["yaxis30"] = dict(domain=[0, 8 / H], range=[-1, 1], anchor="x30", visible=False)
for i, s in enumerate(SERIES):
    x0 = LEG_X0 + LEG_STEP * i
    fig.add_trace(go.Scatter(x=[x0, x0 + LEG_LEN], y=[0, 0], mode="lines", xaxis="x30", yaxis="y30",
                             line=dict(color=COLORS[s], width=2.5), hoverinfo="skip"))
    annotations.append(dict(text=str(s), xref="x30", yref="y30", x=x0 + LEG_LEN + 3, y=0,
                            showarrow=False, xanchor="left", yanchor="middle",
                            font=dict(size=13, color="#111")))

layout["annotations"] = annotations
fig.update_layout(**layout)
fig.write_html("out.html")
